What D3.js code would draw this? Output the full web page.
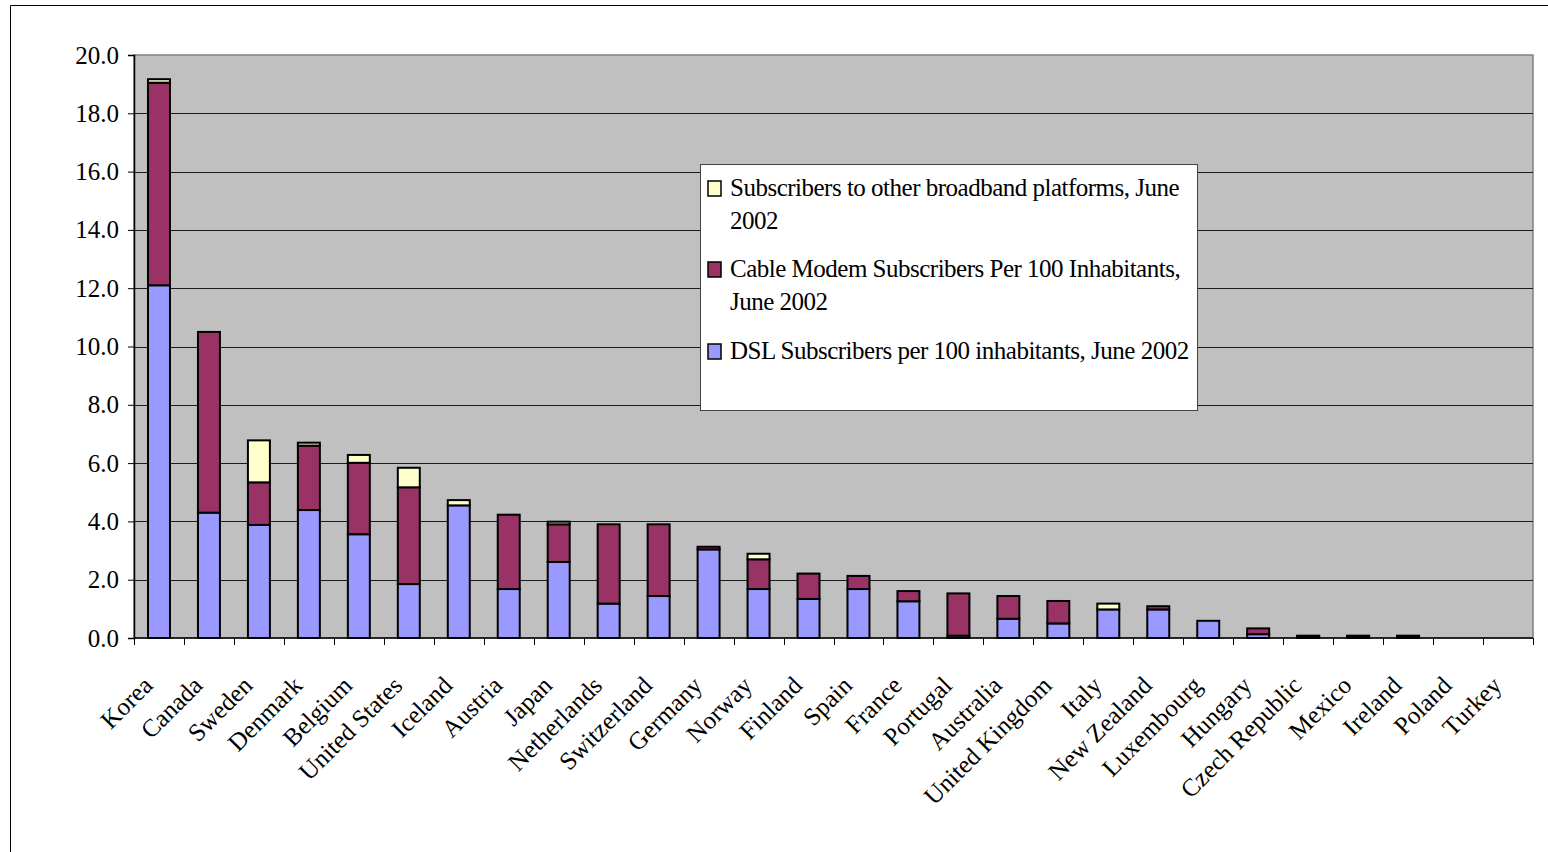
<!DOCTYPE html>
<html>
<head>
<meta charset="utf-8">
<script src="https://cdn.jsdelivr.net/npm/d3@7/dist/d3.min.js"></script>
<style>
  html, body { margin: 0; padding: 0; background: #fff; }
  svg { display: block; }
  text { font-family: "Liberation Serif", "Times New Roman", serif; fill: #000; }
</style>
</head>
<body>
<svg id="chart" width="1548" height="852"></svg>
<script>
// Broadband subscribers per 100 inhabitants, June 2002
const countries = ["Korea", "Canada", "Sweden", "Denmark", "Belgium", "United States", "Iceland",
  "Austria", "Japan", "Netherlands", "Switzerland", "Germany", "Norway", "Finland", "Spain",
  "France", "Portugal", "Australia", "United Kingdom", "Italy", "New Zealand", "Luxembourg",
  "Hungary", "Czech Republic", "Mexico", "Ireland", "Poland", "Turkey"];

const dsl   = [12.1, 4.3, 3.88, 4.39, 3.56, 1.85, 4.55, 1.68, 2.61, 1.18, 1.44, 3.04, 1.68, 1.34, 1.68,
  1.26, 0.08, 0.66, 0.50, 0.98, 0.98, 0.59, 0.13, 0.06, 0.03, 0.05, 0.0, 0.0];
const cable = [6.95, 6.2, 1.46, 2.21, 2.45, 3.32, 0.0, 2.55, 1.29, 2.72, 2.46, 0.09, 1.02, 0.87, 0.45,
  0.35, 1.45, 0.78, 0.77, 0.0, 0.11, 0.0, 0.2, 0.02, 0.05, 0.03, 0.0, 0.0];
const other = [0.12, 0.0, 1.44, 0.1, 0.27, 0.67, 0.18, 0.0, 0.09, 0.0, 0.0, 0.0, 0.19, 0.0, 0.0,
  0.0, 0.0, 0.0, 0.0, 0.2, 0.0, 0.0, 0.0, 0.0, 0.0, 0.0, 0.0, 0.0];

const seriesKeys = ["dsl", "cable", "other"];
const seriesNames = {
  other: ["Subscribers to other broadband platforms, June", "2002"],
  cable: ["Cable Modem Subscribers Per 100 Inhabitants,", "June 2002"],
  dsl:   ["DSL Subscribers per 100 inhabitants, June 2002"]
};
const colors = { dsl: "#9999FF", cable: "#993366", other: "#FFFFCC" };
const yTicks = [0, 2, 4, 6, 8, 10, 12, 14, 16, 18, 20];

const rows = countries.map((c, i) => ({ country: c, dsl: dsl[i], cable: cable[i], other: other[i] }));

const svg = d3.select("#chart");
const plot = { left: 134, right: 1533, top: 55, bottom: 638 };

// outer chart frame
svg.append("path")
  .attr("d", "M10.5,852 L10.5,5.5 L1548,5.5")
  .attr("fill", "none").attr("stroke", "#000").attr("stroke-width", 1);

const x = d3.scaleBand().domain(countries).range([plot.left, plot.right])
  .paddingInner(0.56).paddingOuter(0.28);
const y = d3.scaleLinear().domain([0, 20]).range([plot.bottom, plot.top]);

// plot area
svg.append("rect")
  .attr("x", plot.left).attr("y", plot.top)
  .attr("width", plot.right - plot.left).attr("height", plot.bottom - plot.top)
  .attr("fill", "#C0C0C0").attr("stroke", "#808080").attr("stroke-width", 1.5);

// horizontal gridlines
svg.append("g").selectAll("line").data(yTicks.filter(t => t > 0 && t < 20)).join("line")
  .attr("x1", plot.left).attr("x2", plot.right)
  .attr("y1", d => Math.round(y(d)) + 0.5).attr("y2", d => Math.round(y(d)) + 0.5)
  .attr("stroke", "#1a1a1a").attr("stroke-width", 1);

// stacked bars
const stack = d3.stack().keys(seriesKeys)(rows);
svg.append("g").selectAll("g").data(stack).join("g")
  .attr("fill", d => colors[d.key])
  .selectAll("rect").data(d => d).join("rect")
  .attr("x", d => x(d.data.country))
  .attr("width", x.bandwidth())
  .attr("y", d => y(d[1]))
  .attr("height", d => y(d[0]) - y(d[1]))
  .attr("stroke", "#000").attr("stroke-width", 2)
  .attr("display", d => (d[1] - d[0]) > 0 ? null : "none");

// y axis
const yAxis = svg.append("g").attr("transform", `translate(${plot.left},0)`)
  .call(d3.axisLeft(y).tickValues(yTicks).tickFormat(d3.format(".1f")).tickSize(6).tickPadding(9));
yAxis.select(".domain").attr("stroke", "#000").attr("stroke-width", 1.5);
yAxis.selectAll(".tick line").attr("stroke", "#000");
yAxis.selectAll(".tick text")
  .style("font-family", "'Liberation Serif', serif").style("font-size", "25px").attr("fill", "#000");

// x axis line and category boundary ticks
const step = x.step();
const gap = (step - x.bandwidth()) / 2;
svg.append("line")
  .attr("x1", plot.left).attr("x2", plot.right)
  .attr("y1", plot.bottom).attr("y2", plot.bottom)
  .attr("stroke", "#000").attr("stroke-width", 1.5);
const bounds = countries.map(c => x(c) - gap).concat([x(countries[countries.length - 1]) + x.bandwidth() + gap]);
svg.append("g").selectAll("line").data(bounds).join("line")
  .attr("x1", d => Math.round(d) + 0.5).attr("x2", d => Math.round(d) + 0.5)
  .attr("y1", plot.bottom).attr("y2", plot.bottom + 7)
  .attr("stroke", "#000").attr("stroke-width", 1);

// rotated category labels
svg.append("g").selectAll("text").data(countries).join("text")
  .attr("transform", d => `translate(${x(d) + x.bandwidth() / 2 - 5},${plot.bottom + 49}) rotate(-45)`)
  .attr("text-anchor", "end")
  .style("font-size", "25px")
  .text(d => d);

// legend
const lg = svg.append("g");
lg.append("rect")
  .attr("x", 700.5).attr("y", 164.5).attr("width", 497).attr("height", 246)
  .attr("fill", "#fff").attr("stroke", "#444").attr("stroke-width", 1);
const legendOrder = ["other", "cable", "dsl"];
const itemTop = [181, 262, 344];
legendOrder.forEach((k, i) => {
  lg.append("rect")
    .attr("x", 708).attr("y", itemTop[i]).attr("width", 13).attr("height", 15)
    .attr("fill", colors[k]).attr("stroke", "#000").attr("stroke-width", 1.5);
  seriesNames[k].forEach((line, j) => {
    lg.append("text")
      .attr("x", 730).attr("y", itemTop[i] + 15 + j * 33)
      .style("font-size", "25px")
      .style("letter-spacing", "-0.5px")
      .text(line);
  });
});
</script>
</body>
</html>
